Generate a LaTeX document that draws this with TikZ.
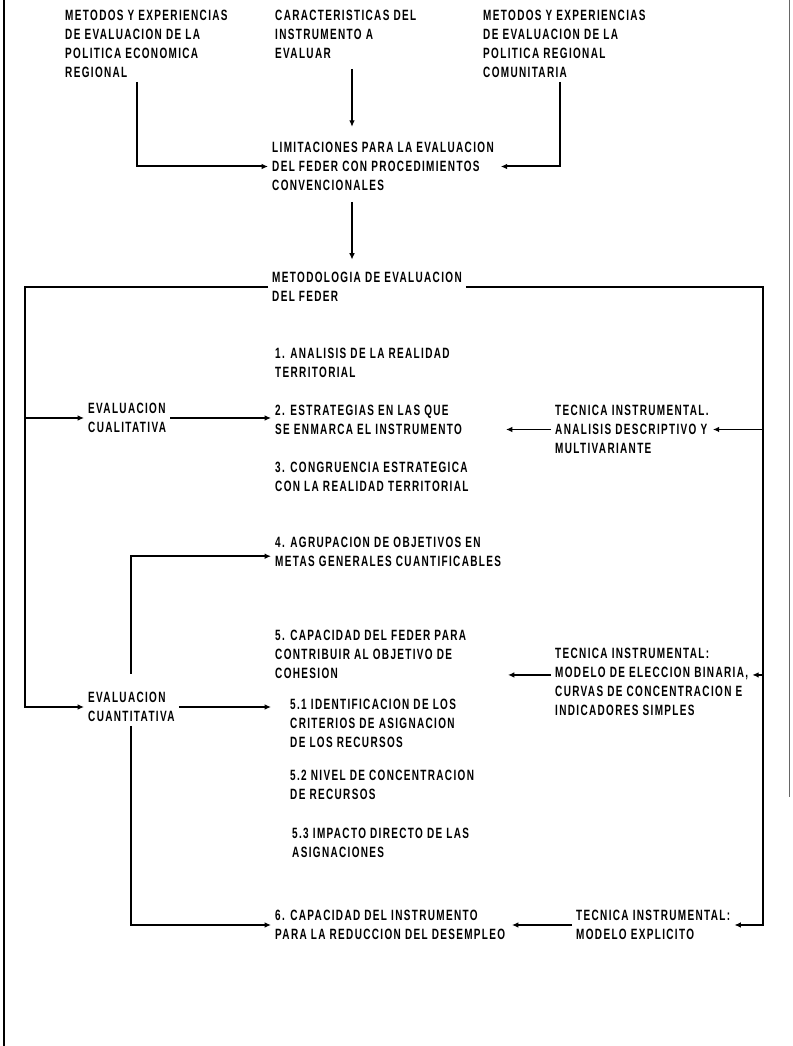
\documentclass[tikz,border=0pt]{standalone}
\usepackage{fontspec}
\setmainfont{Liberation Sans}[FakeStretch=0.67,LetterSpace=9]
\usetikzlibrary{arrows.meta,calc}

\begin{document}
\begin{tikzpicture}[
     x = 0.025cm,
     y = -0.025cm,
     every node/.style = {align=left, anchor=north west, inner sep=0pt, outer sep=3pt,
                          font=\fontsize{10.6}{13.5}\selectfont\bfseries},
     line width = 1.4pt,
     >={Latex[length=4.5pt,width=4pt]}
    ]
    \tikzstyle{conn}=[->]
    \tikzstyle{thin conn}=[->, line width=0.8pt]

    \useasboundingbox (0,0) rectangle (792,1046);

    % sources
    \node (metEco) at (61,6) {METODOS Y EXPERIENCIAS\\DE EVALUACION DE LA\\POLITICA ECONOMICA\\REGIONAL};
    \node (caract) at (271,6) {CARACTERISTICAS DEL\\INSTRUMENTO A\\EVALUAR};
    \node (metCom) at (479,6) {METODOS Y EXPERIENCIAS\\DE EVALUACION DE LA\\POLITICA REGIONAL\\COMUNITARIA};
    \node (limit) at (268,138) {LIMITACIONES PARA LA EVALUACION\\DEL FEDER CON PROCEDIMIENTOS\\CONVENCIONALES};
    \node (metod) at (268,268) {METODOLOGIA DE EVALUACION\\DEL FEDER};

    % left column
    \node (cuali) at (84,399) {EVALUACION\\CUALITATIVA};
    \node (cuanti) at (84,688) {EVALUACION\\CUANTITATIVA};

    % steps
    \node (it1) at (271,344) {1. ANALISIS DE LA REALIDAD\\TERRITORIAL};
    \node (it2) at (271,401) {2. ESTRATEGIAS EN LAS QUE\\SE ENMARCA EL INSTRUMENTO};
    \node (it3) at (271,458) {3. CONGRUENCIA ESTRATEGICA\\CON LA REALIDAD TERRITORIAL};
    \node (it4) at (271,533) {4. AGRUPACION DE OBJETIVOS EN\\METAS GENERALES CUANTIFICABLES};
    \node (it5) at (271,626) {5. CAPACIDAD DEL FEDER PARA\\CONTRIBUIR AL OBJETIVO DE\\COHESION};
    \node (it51) at (286,695) {5.1 IDENTIFICACION DE LOS\\CRITERIOS DE ASIGNACION\\DE LOS RECURSOS};
    \node (it52) at (286,766) {5.2 NIVEL DE CONCENTRACION\\DE RECURSOS};
    \node (it53) at (288,824) {5.3 IMPACTO DIRECTO DE LAS\\ASIGNACIONES};
    \node (it6) at (271,906) {6. CAPACIDAD DEL INSTRUMENTO\\PARA LA REDUCCION DEL DESEMPLEO};

    % techniques
    \node (tecA) at (551,401) {TECNICA INSTRUMENTAL.\\ANALISIS DESCRIPTIVO Y\\MULTIVARIANTE};
    \node (tecB) at (551,644) {TECNICA INSTRUMENTAL:\\MODELO DE ELECCION BINARIA,\\CURVAS DE CONCENTRACION E\\INDICADORES SIMPLES};
    \node (tecC) at (572,906) {TECNICA INSTRUMENTAL:\\MODELO EXPLICITO};

    \coordinate (bTop) at ($(caract.south west)+(81,6)$);
    \coordinate (lcol) at (25,0);
    \coordinate (rcol) at (763,0);
    \coordinate (tecBarr) at ([yshift=5pt]tecB.east);

    % top part
    \draw[conn] ($(metEco.south west)+(76,0)$) |- (limit.west);
    \draw[thin conn, shorten >=8pt] (bTop) -- (bTop |- limit.north);
    \draw[conn] ($(metCom.south west)+(81,0)$) |- ([xshift=2pt]limit.east);
    \draw[thin conn, shorten <=5pt, shorten >=6pt] (limit.south -| bTop) -- (bTop |- metod.north);

    % trunks
    \draw[conn] (metod.west) -| (lcol |- cuanti.west) -- (cuanti.west);
    \draw[conn] (lcol |- cuali.west) -- (cuali.west);
    \draw[conn] (metod.east) -| (rcol |- tecC.east) -- (tecC.east);
    \draw[conn] (rcol |- tecA.east) -- (tecA.east);
    \draw[conn] (rcol |- tecBarr) -- (tecBarr);

    % into the steps
    \draw[conn] (cuali.east) -- (cuali.east -| it2.west);
    \draw[conn] (cuanti.east) -- (cuanti.east -| it5.west);
    \draw[conn, shorten <=10pt] (cuanti.north) |- ([yshift=-3pt]it4.west);
    \draw[conn] (cuanti.south) |- (it6.west);
    \draw[conn] (tecA.west) -- ++(-45,0);
    \draw[conn] (tecBarr -| tecB.west) -- ++(-43,0);
    \draw[conn] (tecC.west) -- ++(-60,0);

    % page edges
    \draw[line width=2pt] (4,0) -- (4,1046);
    \draw[line width=0.5pt, black!60] (789,0) -- (789,797);
\end{tikzpicture}
\end{document}
